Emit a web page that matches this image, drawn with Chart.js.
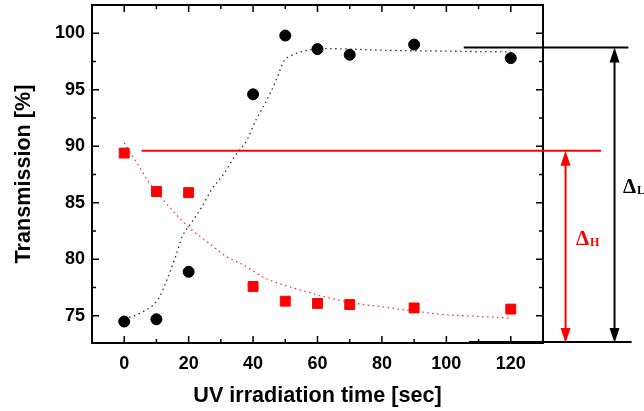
<!DOCTYPE html>
<html>
<head>
<meta charset="utf-8">
<script src="https://cdn.jsdelivr.net/npm/chart.js@4/dist/chart.umd.min.js"></script>
<style>
  html, body { margin: 0; padding: 0; background: #fff; }
  #wrap { width: 644px; height: 411px; }
</style>
</head>
<body>
<div id="wrap"><canvas id="transChart"></canvas></div>
<script>
"use strict"

// measured points
const timeSec = [0, 10, 20, 40, 50, 60, 70, 90, 120];
const lowState = [74.5, 74.7, 78.9, 94.6, 99.8, 98.6, 98.1, 99.0, 97.8];
const highState = [89.4, 86.0, 85.9, 77.6, 76.3, 76.1, 76.0, 75.7, 75.6];

// fit curves
const lowFitTime = [0, 3, 6, 9, 11, 13, 16, 18, 21, 24, 27, 31, 34.5, 38, 41, 43, 45.5, 47.5, 49.5, 52, 57, 60, 70, 80, 90, 100, 110, 120];
const lowFit = [74.8, 75.0, 75.4, 75.95, 76.7, 78.0, 80.3, 82.0, 83.3, 84.6, 86.1, 87.6, 89.2, 90.5, 92.4, 93.4, 94.8, 96.1, 97.5, 98.05, 98.5, 98.65, 98.6, 98.5, 98.45, 98.42, 98.38, 98.35];
const highFitTime = [0, 2, 5, 7, 12, 16, 21, 26, 32, 37, 44, 51, 57, 62, 72, 80, 92, 100, 110, 120];
const highFit = [90.3, 89.4, 88.05, 87.1, 85.3, 84.0, 82.6, 81.5, 80.2, 79.5, 78.3, 77.6, 77.1, 76.7, 76.1, 75.8, 75.35, 75.1, 74.95, 74.8];

// axes
const xTicks = [0, 20, 40, 60, 80, 100, 120];
const xMinor = [10, 30, 50, 70, 90, 110];
const yTicks = [75, 80, 85, 90, 95, 100];
const yMinor = [77.5, 82.5, 87.5, 92.5, 97.5];

// delta markers: [level, line from, line to, arrow at]
const deltaH = [89.6, 5.4, 148, 137];
const deltaL = [98.75, 105.4, 156.5, 152.2];
const baseLine = [107, 157.5];

const toXY = (xs, ys) => xs.map((v, i) => ({x: v, y: ys[i]}));

function arrowHead(ctx, x, y, dir) {
  ctx.beginPath();
  ctx.moveTo(x, y);
  ctx.lineTo(x - 5, y + dir * 15);
  ctx.lineTo(x + 5, y + dir * 15);
  ctx.closePath();
  ctx.fill();
}

const framePlugin = {
  id: 'frame',
  afterDraw(chart) {
    const {ctx, chartArea: a, scales: {x, y}} = chart;
    ctx.save();
    ctx.strokeStyle = '#000';
    ctx.lineWidth = 2;
    ctx.strokeRect(a.left, a.top, a.right - a.left, a.bottom - a.top);

    // inward ticks on all four sides
    ctx.lineWidth = 1.5;
    ctx.beginPath();
    const tx = (v, len) => {
      const px = x.getPixelForValue(v);
      ctx.moveTo(px, a.bottom); ctx.lineTo(px, a.bottom - len);
      ctx.moveTo(px, a.top); ctx.lineTo(px, a.top + len);
    };
    const ty = (v, len) => {
      const py = y.getPixelForValue(v);
      ctx.moveTo(a.left, py); ctx.lineTo(a.left + len, py);
      ctx.moveTo(a.right, py); ctx.lineTo(a.right - len, py);
    };
    xTicks.forEach(v => tx(v, 7));
    xMinor.forEach(v => tx(v, 4));
    yTicks.forEach(v => ty(v, 7));
    yMinor.forEach(v => ty(v, 4));
    ctx.stroke();

    // delta H (red)
    const hy = y.getPixelForValue(deltaH[0]);
    ctx.strokeStyle = '#ff0000';
    ctx.fillStyle = '#ff0000';
    ctx.lineWidth = 2;
    ctx.beginPath();
    ctx.moveTo(x.getPixelForValue(deltaH[1]), hy);
    ctx.lineTo(x.getPixelForValue(deltaH[2]), hy);
    const hx = x.getPixelForValue(deltaH[3]);
    ctx.moveTo(hx, hy + 12);
    ctx.lineTo(hx, a.bottom - 12);
    ctx.stroke();
    arrowHead(ctx, hx, hy, 1);
    arrowHead(ctx, hx, a.bottom, -1);

    // delta L (black)
    const ly = y.getPixelForValue(deltaL[0]);
    ctx.strokeStyle = '#000';
    ctx.fillStyle = '#000';
    ctx.beginPath();
    ctx.moveTo(x.getPixelForValue(deltaL[1]), ly);
    ctx.lineTo(x.getPixelForValue(deltaL[2]), ly);
    const lx = x.getPixelForValue(deltaL[3]);
    ctx.moveTo(lx, ly + 12);
    ctx.lineTo(lx, a.bottom - 12);
    ctx.moveTo(x.getPixelForValue(baseLine[0]), a.bottom - 1);
    ctx.lineTo(x.getPixelForValue(baseLine[1]), a.bottom - 1);
    ctx.stroke();
    arrowHead(ctx, lx, ly, 1);
    arrowHead(ctx, lx, a.bottom, -1);

    // delta labels
    ctx.textBaseline = 'alphabetic';
    ctx.textAlign = 'left';
    ctx.fillStyle = '#ff0000';
    ctx.font = 'bold 21px "Liberation Serif"';
    ctx.fillText('\u0394', 576, 245);
    ctx.font = 'bold 12px "Liberation Serif"';
    ctx.fillText('H', 590, 246);
    ctx.fillStyle = '#000';
    ctx.font = 'bold 21px "Liberation Serif"';
    ctx.fillText('\u0394', 623, 193);
    ctx.font = 'bold 12px "Liberation Serif"';
    ctx.fillText('L', 637, 194);

    // axis titles
    ctx.font = 'bold 21.6px "Liberation Sans"';
    ctx.textAlign = 'center';
    ctx.textBaseline = 'middle';
    ctx.fillText('UV irradiation time [sec]', (a.left + a.right) / 2, 396);
    ctx.translate(24, (a.top + a.bottom) / 2);
    ctx.rotate(-Math.PI / 2);
    ctx.fillText('Transmission [%]', 0, 0);
    ctx.restore();
  }
};

const tickFont = {family: 'Liberation Sans', size: 18, weight: 'bold'};

new Chart(document.getElementById('transChart'), {
  type: 'scatter',
  data: {
    datasets: [
      {
        data: toXY(timeSec, lowState),
        backgroundColor: '#000', borderColor: '#000',
        pointStyle: 'circle', pointRadius: 5.5, pointHoverRadius: 5.5
      },
      {
        data: toXY(timeSec, highState),
        backgroundColor: '#ff0000', borderColor: '#ff0000',
        pointStyle: 'rect', pointRadius: 7, pointHoverRadius: 7
      },
      {
        data: toXY(lowFitTime, lowFit),
        showLine: true, pointRadius: 0, cubicInterpolationMode: 'monotone',
        borderColor: '#333', borderWidth: 1.3, borderDash: [1.5, 3.5]
      },
      {
        data: toXY(highFitTime, highFit),
        showLine: true, pointRadius: 0, cubicInterpolationMode: 'monotone',
        borderColor: '#ff3333', borderWidth: 1.3, borderDash: [1.5, 3.5]
      }
    ]
  },
  options: {
    responsive: true,
    maintainAspectRatio: false,
    animation: false,
    events: [],
    layout: {autoPadding: false, padding: {top: 5, right: 101, left: 0, bottom: 0}},
    plugins: {legend: {display: false}, tooltip: {enabled: false}},
    scales: {
      x: {
        type: 'linear', min: -10, max: 130,
        afterBuildTicks: s => { s.ticks = xTicks.map(v => ({value: v})); },
        afterFit: s => { s.height = 68; s.paddingLeft = 0; s.paddingRight = 0; },
        grid: {display: false, drawTicks: false},
        border: {display: false},
        ticks: {font: tickFont, color: '#000', padding: 10, maxRotation: 0}
      },
      y: {
        type: 'linear', min: 72.6, max: 102.5,
        afterBuildTicks: s => { s.ticks = yTicks.map(v => ({value: v})); },
        afterFit: s => { s.width = 92; s.paddingTop = 0; s.paddingBottom = 0; },
        grid: {display: false, drawTicks: false},
        border: {display: false},
        ticks: {font: tickFont, color: '#000', padding: 7}
      }
    }
  },
  plugins: [framePlugin]
});
</script>
</body>
</html>
